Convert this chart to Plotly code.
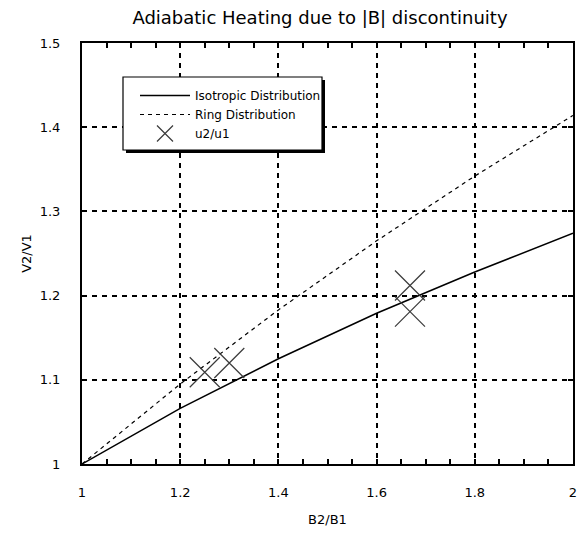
import plotly.graph_objects as go

# Data
b_ratio = [1.0, 1.2, 1.4, 1.6, 1.8, 2.0]
isotropic = [1.0, 1.066, 1.125, 1.179, 1.228, 1.274]
ring = [1.0, 1.095, 1.183, 1.265, 1.342, 1.414]
obs_b = [1.25, 1.30, 1.668, 1.668]
obs_u = [1.109, 1.120, 1.212, 1.181]

x_ticks = [1, 1.2, 1.4, 1.6, 1.8, 2]
y_ticks = [1, 1.1, 1.2, 1.3, 1.4, 1.5]

W, H = 578, 533
ML, MR, MT, MB = 82, 5, 43, 69
PW, PH = W - ML - MR, H - MT - MB

FONT = "DejaVu Sans, Verdana, sans-serif"


def px_x(p):
    return (p - ML) / PW


def px_y(p):
    return 1 - (p - MT) / PH


fig = go.Figure()
fig.add_trace(go.Scatter(x=b_ratio, y=isotropic, mode="lines", name="Isotropic Distribution",
                         line=dict(color="black", width=1.5)))
fig.add_trace(go.Scatter(x=b_ratio, y=ring, mode="lines", name="Ring Distribution",
                         line=dict(color="black", width=1.2, dash="4px,4px")))
fig.add_trace(go.Scatter(x=obs_b, y=obs_u, mode="markers", name="u2/u1",
                         marker=dict(symbol="x-thin", size=30, color="#3a3a3a",
                                     line=dict(color="#3a3a3a", width=1.2))))

axis_common = dict(
    showline=True, linecolor="black", linewidth=2, mirror="allticks",
    ticks="inside", ticklen=5, tickwidth=1.5, tickcolor="black",
    showgrid=True, gridcolor="black", gridwidth=1.5, griddash="5px,5px",
    zeroline=False, automargin=False,
    tickfont=dict(family=FONT, size=13, color="black"),
)

fig.update_xaxes(range=[1, 2], tickvals=x_ticks, ticktext=[str(v) for v in x_ticks],
                 minor=dict(dtick=0.05, ticks="inside", ticklen=5, tickwidth=1.5,
                            tickcolor="black", showgrid=False),
                 title=dict(text="B2/B1", font=dict(family=FONT, size=13, color="black"), standoff=16),
                 ticklabelstandoff=15, **axis_common)
fig.update_yaxes(range=[1, 1.5], tickvals=y_ticks, ticktext=[str(v) for v in y_ticks],
                 title=dict(text="V2/V1", font=dict(family=FONT, size=13, color="black"), standoff=5),
                 ticklabelstandoff=17, **axis_common)

# legend frame with drop shadow
bx0, by0, bx1, by1 = 123, 77, 322, 150
fig.add_shape(type="rect", xref="paper", yref="paper",
              x0=px_x(bx0 + 3), x1=px_x(bx1 + 3), y0=px_y(by1 + 3), y1=px_y(by0 + 3),
              fillcolor="black", line=dict(width=0), layer="above")
fig.add_shape(type="rect", xref="paper", yref="paper",
              x0=px_x(bx0), x1=px_x(bx1), y0=px_y(by1), y1=px_y(by0),
              fillcolor="white", line=dict(color="black", width=1.2), layer="above")

fig.update_layout(
    width=W, height=H,
    margin=dict(l=ML, r=MR, t=MT, b=MB),
    paper_bgcolor="white", plot_bgcolor="white",
    title=dict(text="Adiabatic Heating due to |B| discontinuity",
               font=dict(family=FONT, size=18, color="black"),
               x=px_x(320), xref="paper", xanchor="center", y=1 - 18 / H, yanchor="middle"),
    legend=dict(x=px_x(bx0 + 12), y=px_y(81), xanchor="left", yanchor="top",
                bgcolor="rgba(0,0,0,0)", borderwidth=0,
                font=dict(family=FONT, size=12, color="black"),
                itemwidth=50, tracegroupgap=0),
    showlegend=True,
)

fig.write_html(
    "out.html",
    config={"displayModeBar": False},
    post_script="document.body.style.margin='0';document.body.style.overflow='hidden';",
)
